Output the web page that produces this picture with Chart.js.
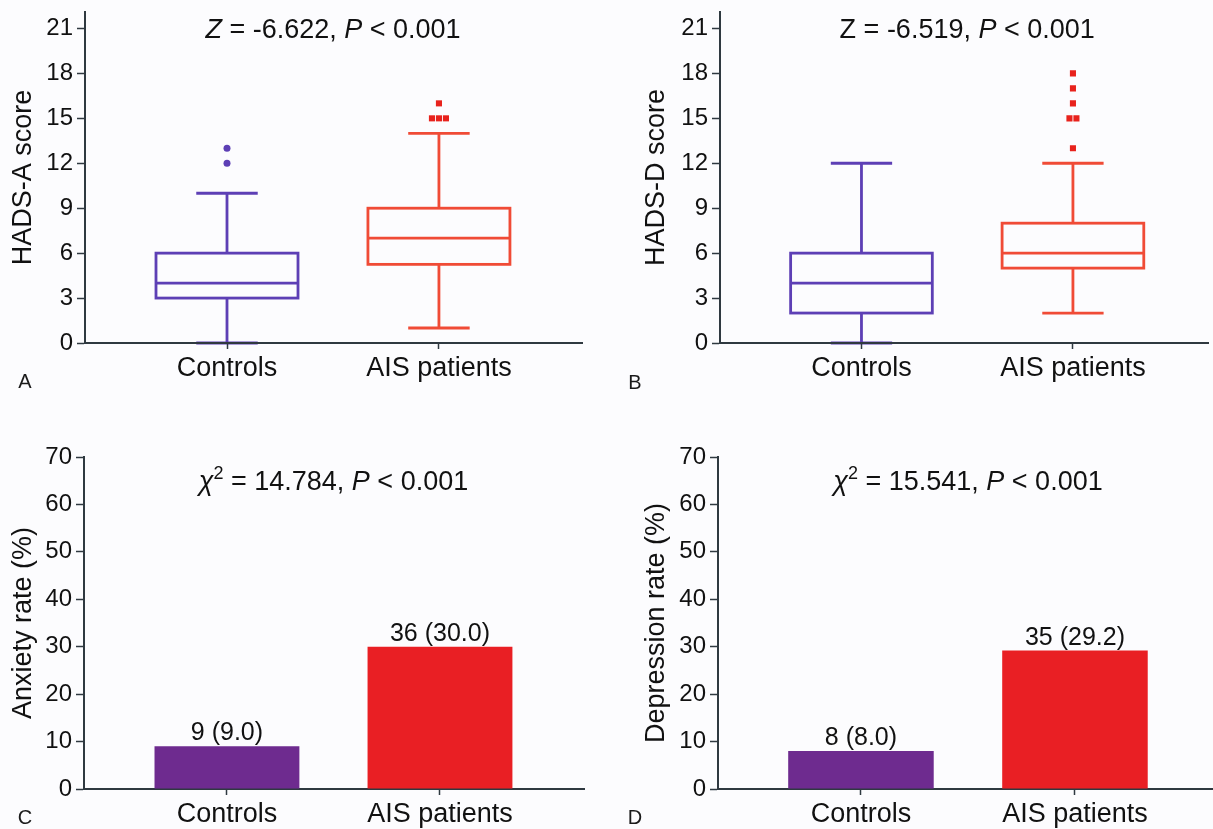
<!DOCTYPE html>
<html>
<head>
<meta charset="utf-8">
<script src="https://cdn.jsdelivr.net/npm/chart.js@4.4.0/dist/chart.umd.min.js"></script>
<style>
html, body { margin: 0; padding: 0; background: #fcfcfe; }
body { width: 1213px; height: 829px; position: relative; overflow: hidden; font-family: "Liberation Sans", Arial, sans-serif; }
.panel { position: absolute; }
.letter { position: absolute; font-size: 20px; color: #1a1a1a; transform: translate(-50%, -50%); line-height: 1; }
</style>
</head>
<body>
<div class="panel" style="left:0;top:0;width:606px;height:414px"><canvas id="cA"></canvas></div>
<div class="panel" style="left:606px;top:0;width:607px;height:414px"><canvas id="cB"></canvas></div>
<div class="panel" style="left:0;top:414px;width:606px;height:415px"><canvas id="cC"></canvas></div>
<div class="panel" style="left:606px;top:414px;width:607px;height:415px"><canvas id="cD"></canvas></div>
<div class="letter" style="left:25px;top:381px">A</div>
<div class="letter" style="left:635px;top:382px">B</div>
<div class="letter" style="left:25px;top:817px">C</div>
<div class="letter" style="left:635px;top:817px">D</div>
<script>
// ---------------- data ----------------
const categories = ['Controls', 'AIS patients'];
const scoreTicks = [0, 3, 6, 9, 12, 15, 18, 21];
const rateTicks = [0, 10, 20, 30, 40, 50, 60, 70];

// Panel A: HADS-A score box plots (Controls, AIS patients)
const hadsAMin = [0, 1];
const hadsAQ1 = [3, 5.25];
const hadsAMedian = [4, 7];
const hadsAQ3 = [6, 9];
const hadsAMax = [10, 14];
const hadsAOutliersControls = [12, 13];
const hadsAOutliersAIS = [15, 15, 15, 16];

// Panel B: HADS-D score box plots
const hadsDMin = [0, 2];
const hadsDQ1 = [2, 5];
const hadsDMedian = [4, 6];
const hadsDQ3 = [6, 8];
const hadsDMax = [12, 12];
const hadsDOutliersControls = [];
const hadsDOutliersAIS = [13, 15, 15, 16, 17, 18];

// Panel C / D: rates
const anxietyCount = [9, 36];
const anxietyRate = [9.0, 30.0];
const depressionCount = [8, 35];
const depressionRate = [8.0, 29.2];

// Titles (rich text segments)
const titleA = [{ text: 'Z', italic: true }, { text: ' = -6.622, ' }, { text: 'P', italic: true }, { text: ' < 0.001' }];
const titleB = [{ text: 'Z = -6.519, ' }, { text: 'P', italic: true }, { text: ' < 0.001' }];
const titleC = [{ text: 'χ', italic: true }, { text: '2', sup: true }, { text: ' = 14.784, ' }, { text: 'P', italic: true }, { text: ' < 0.001' }];
const titleD = [{ text: 'χ', italic: true }, { text: '2', sup: true }, { text: ' = 15.541, ' }, { text: 'P', italic: true }, { text: ' < 0.001' }];

// ---------------- styles ----------------
const FONT = '"Liberation Sans", Arial, sans-serif';
const TEXT = '#111111';
const AXIS = '#2f3940';
const BOX_COLORS = ['#5d3fb5', '#f04b36'];
const PT_COLORS = ['#5d3fb5', '#e8221c'];
const BAR_COLORS = ['#6e2b8f', '#e91f24'];
const DODGE = 0.033;

function dodge(values, center, step) {
  const counts = {};
  values.forEach(v => { counts[v] = (counts[v] || 0) + 1; });
  const seen = {};
  return values.map(v => {
    const i = seen[v] = (seen[v] === undefined ? 0 : seen[v] + 1);
    return { x: center + (i - (counts[v] - 1) / 2) * step, y: v };
  });
}

function xScale(min, max, height) {
  return {
    type: 'linear', min, max, offset: false,
    border: { display: true, color: AXIS, width: 2 },
    grid: { display: true, offset: false, drawOnChartArea: false, drawTicks: true, tickLength: 6, tickColor: AXIS, tickWidth: 1.5, color: AXIS },
    ticks: { font: { family: FONT, size: 27 }, color: TEXT, padding: 3, maxRotation: 0, minRotation: 0, autoSkip: false,
      callback: (v) => categories[Math.round(v) - 1] || '' },
    afterBuildTicks: a => { a.ticks = categories.map((c, i) => ({ value: i + 1 })); },
    afterFit: a => { a.height = height; a.paddingLeft = 0; a.paddingRight = 0; }
  };
}

function yScale(min, max, ticks, width, title) {
  return {
    type: 'linear', min, max,
    border: { display: true, color: AXIS, width: 2 },
    grid: { display: true, drawOnChartArea: false, drawTicks: true, tickLength: 8, tickColor: AXIS, tickWidth: 1.5, color: AXIS },
    ticks: { font: { family: FONT, size: 24 }, color: TEXT, padding: 4, autoSkip: false },
    title: { display: true, text: title, font: { family: FONT, size: 27 }, color: TEXT, padding: { top: 7, bottom: 0 } },
    afterBuildTicks: a => { a.ticks = ticks.map(v => ({ value: v })); },
    afterFit: a => { a.width = width; a.paddingTop = 0; a.paddingBottom = 0; }
  };
}

function makeTitlePlugin(segs, atValue, size) {
  return {
    id: 'richTitle',
    afterDraw(chart) {
      const { ctx, scales: { x, y } } = chart;
      const fontFor = s => (s.italic ? 'italic ' : '') + (s.sup ? Math.round(size * 0.68) : size) + 'px ' + FONT;
      const widths = segs.map(s => { ctx.font = fontFor(s); return ctx.measureText(s.text).width; });
      const total = widths.reduce((a, b) => a + b, 0);
      const cx = (x.getPixelForValue(1) + x.getPixelForValue(2)) / 2;
      const base = y.getPixelForValue(atValue) + size * 0.358;
      let px = cx - total / 2;
      ctx.save();
      ctx.fillStyle = TEXT;
      ctx.textBaseline = 'alphabetic';
      ctx.textAlign = 'left';
      segs.forEach((s, i) => {
        ctx.font = fontFor(s);
        ctx.fillText(s.text, px, s.sup ? base - size * 0.42 : base);
        px += widths[i];
      });
      ctx.restore();
    }
  };
}

function makeBoxPlugin(stats) {
  return {
    id: 'boxes',
    beforeDraw(chart) {
      const { ctx, scales: { x, y } } = chart;
      ctx.save();
      ctx.lineWidth = 2.8;
      ctx.lineCap = 'butt';
      categories.forEach((c, i) => {
        const cx = x.getPixelForValue(i + 1);
        const half = (x.getPixelForValue(i + 1 + stats.boxWidth / 2) - cx);
        const capHalf = (x.getPixelForValue(i + 1 + stats.capWidth / 2) - cx);
        const yMin = y.getPixelForValue(stats.min[i]);
        const yQ1 = y.getPixelForValue(stats.q1[i]);
        const yMed = y.getPixelForValue(stats.median[i]);
        const yQ3 = y.getPixelForValue(stats.q3[i]);
        const yMax = y.getPixelForValue(stats.max[i]);
        ctx.strokeStyle = BOX_COLORS[i];
        ctx.beginPath();
        ctx.moveTo(cx, yQ3); ctx.lineTo(cx, yMax);
        ctx.moveTo(cx, yQ1); ctx.lineTo(cx, yMin);
        ctx.moveTo(cx - capHalf, yMax); ctx.lineTo(cx + capHalf, yMax);
        ctx.moveTo(cx - capHalf, yMin); ctx.lineTo(cx + capHalf, yMin);
        ctx.moveTo(cx - half, yMed); ctx.lineTo(cx + half, yMed);
        ctx.stroke();
        ctx.strokeRect(cx - half, yQ3, 2 * half, yQ1 - yQ3);
      });
      ctx.restore();
    }
  };
}

function makeBarLabelPlugin(counts, rates) {
  return {
    id: 'barLabels',
    afterDatasetsDraw(chart) {
      const { ctx } = chart;
      const meta = chart.getDatasetMeta(0);
      ctx.save();
      ctx.fillStyle = TEXT;
      ctx.font = '25px ' + FONT;
      ctx.textAlign = 'center';
      ctx.textBaseline = 'alphabetic';
      meta.data.forEach((bar, i) => {
        ctx.fillText(counts[i] + ' (' + rates[i].toFixed(1) + ')', bar.x, bar.y - 6);
      });
      ctx.restore();
    }
  };
}

const common = {
  responsive: true,
  maintainAspectRatio: false,
  animation: false,
  devicePixelRatio: 1,
  events: []
};

function boxChart(id, cfg) {
  return new Chart(document.getElementById(id), {
    type: 'scatter',
    data: {
      datasets: [
        { data: dodge(cfg.outliers[0], 1, DODGE), pointStyle: 'circle', pointRadius: 3.5, pointHoverRadius: 3.5,
          backgroundColor: PT_COLORS[0], borderWidth: 0 },
        { data: dodge(cfg.outliers[1], 2, DODGE), pointStyle: 'rect', pointRadius: 4.3, pointHoverRadius: 4.3,
          backgroundColor: PT_COLORS[1], borderWidth: 0 }
      ]
    },
    options: Object.assign({}, common, {
      layout: { padding: cfg.padding },
      scales: {
        x: xScale(cfg.xMin, cfg.xMax, cfg.xHeight),
        y: yScale(0, 22.1, scoreTicks, cfg.yWidth, cfg.yTitle)
      },
      plugins: { legend: { display: false }, tooltip: { enabled: false } }
    }),
    plugins: [makeBoxPlugin(cfg.stats), makeTitlePlugin(cfg.title, 21, 27)]
  });
}

function barChart(id, cfg) {
  return new Chart(document.getElementById(id), {
    type: 'bar',
    data: {
      datasets: [{
        data: cfg.rates.map((r, i) => ({ x: i + 1, y: r })),
        backgroundColor: BAR_COLORS,
        borderWidth: 0,
        barPercentage: 0.85,
        categoryPercentage: 0.8
      }]
    },
    options: Object.assign({}, common, {
      layout: { padding: cfg.padding },
      scales: {
        x: xScale(cfg.xMin, cfg.xMax, cfg.xHeight),
        y: yScale(0, 70, rateTicks, cfg.yWidth, cfg.yTitle)
      },
      plugins: { legend: { display: false }, tooltip: { enabled: false } }
    }),
    plugins: [makeBarLabelPlugin(cfg.counts, cfg.rates), makeTitlePlugin(cfg.title, 65, 27)]
  });
}

boxChart('cA', {
  padding: { left: 0, top: 12, right: 24, bottom: 0 },
  xMin: 0.33, xMax: 2.675, xHeight: 71, yWidth: 85,
  yTitle: 'HADS-A score', title: titleA,
  outliers: [hadsAOutliersControls, hadsAOutliersAIS],
  stats: { min: hadsAMin, q1: hadsAQ1, median: hadsAMedian, q3: hadsAQ3, max: hadsAMax, boxWidth: 0.67, capWidth: 0.29 }
});

boxChart('cB', {
  padding: { left: 27, top: 12, right: 0, bottom: 0 },
  xMin: 0.331, xMax: 2.642, xHeight: 71, yWidth: 87,
  yTitle: 'HADS-D score', title: titleB,
  outliers: [hadsDOutliersControls, hadsDOutliersAIS],
  stats: { min: hadsDMin, q1: hadsDQ1, median: hadsDMedian, q3: hadsDQ3, max: hadsDMax, boxWidth: 0.67, capWidth: 0.29 }
});

barChart('cC', {
  padding: { left: 0, top: 43, right: 22, bottom: 0 },
  xMin: 0.329, xMax: 2.676, xHeight: 40, yWidth: 84,
  yTitle: 'Anxiety rate (%)', title: titleC,
  counts: anxietyCount, rates: anxietyRate
});

barChart('cD', {
  padding: { left: 27, top: 43, right: 0, bottom: 0 },
  xMin: 0.332, xMax: 2.645, xHeight: 40, yWidth: 85,
  yTitle: 'Depression rate (%)', title: titleD,
  counts: depressionCount, rates: depressionRate
});
</script>
</body>
</html>
